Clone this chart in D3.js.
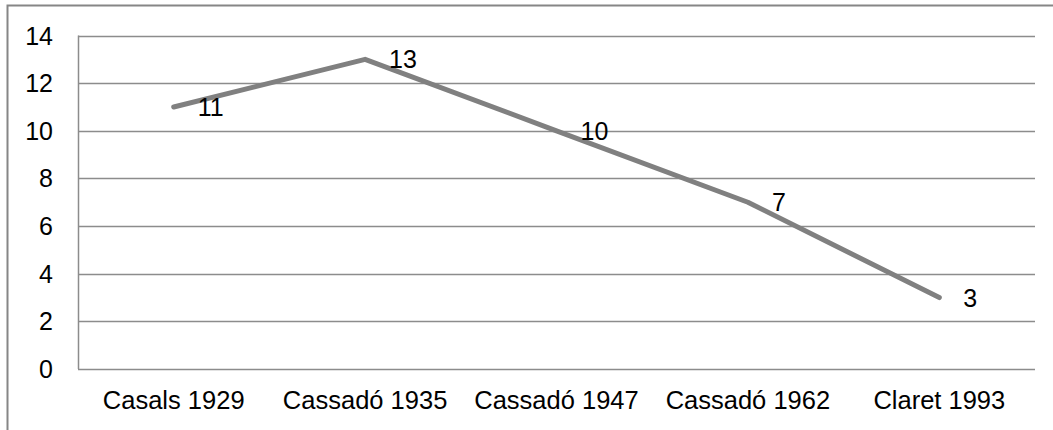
<!DOCTYPE html>
<html>
<head>
<meta charset="utf-8">
<script src="https://cdn.jsdelivr.net/npm/d3@7"></script>
<style>
  body { margin: 0; background: #fff; }
  text { font-family: "Liberation Sans", Arial, sans-serif; fill: #000; }
</style>
</head>
<body>
<div id="chart"></div>
<script>
var categories = ["Casals 1929", "Cassadó 1935", "Cassadó 1947", "Cassadó 1962", "Claret 1993"];
var values = [11, 13, 10, 7, 3];
var yTicks = [0, 2, 4, 6, 8, 10, 12, 14];

var width = 1053;
var height = 430;
var margin = {top: 35.5, right: 18, bottom: 61, left: 78};

var svg = d3.select("#chart")
            .append("svg")
            .attr("width", width)
            .attr("height", height);

// outer frame (top and left edges visible only)
svg.append("path")
   .attr("d", "M7.5," + height + "V5.5H" + width)
   .attr("fill", "none")
   .attr("stroke", "#868686")
   .attr("stroke-width", 2);

var x = d3.scaleBand()
          .domain(categories)
          .range([margin.left, width - margin.right]);

var y = d3.scaleLinear()
          .domain([0, 14])
          .range([height - margin.bottom, margin.top]);

// gridlines
svg.append("g")
   .selectAll("line")
   .data(yTicks)
   .enter()
   .append("line")
   .attr("x1", margin.left)
   .attr("x2", width - margin.right)
   .attr("y1", function(d){ return Math.round(y(d)) + 0.5; })
   .attr("y2", function(d){ return Math.round(y(d)) + 0.5; })
   .attr("stroke", "#8c8c8c")
   .attr("stroke-width", 1.5);

// vertical axis line
svg.append("line")
   .attr("x1", margin.left + 0.5)
   .attr("x2", margin.left + 0.5)
   .attr("y1", y(14))
   .attr("y2", y(0))
   .attr("stroke", "#8c8c8c")
   .attr("stroke-width", 1.5);

// y tick labels
svg.append("g")
   .selectAll("text")
   .data(yTicks)
   .enter()
   .append("text")
   .attr("x", 53)
   .attr("y", function(d){ return y(d); })
   .attr("dy", "0.36em")
   .attr("text-anchor", "end")
   .style("font-size", "25px")
   .text(function(d){ return d; });

// category labels
svg.append("g")
   .selectAll("text")
   .data(categories)
   .enter()
   .append("text")
   .attr("x", function(d){ return x(d) + x.bandwidth()/2; })
   .attr("y", 409)
   .attr("text-anchor", "middle")
   .style("font-size", "25.5px")
   .text(function(d){ return d; });

var pts = categories.map(function(c, i){ return {cat: c, val: values[i]}; });

var line = d3.line()
             .x(function(d){ return x(d.cat) + x.bandwidth()/2; })
             .y(function(d){ return y(d.val); });

svg.append("path")
   .datum(pts)
   .attr("d", line)
   .attr("fill", "none")
   .attr("stroke", "#808080")
   .attr("stroke-width", 5)
   .attr("stroke-linecap", "round")
   .attr("stroke-linejoin", "round");

// data labels
svg.append("g")
   .selectAll("text")
   .data(pts)
   .enter()
   .append("text")
   .attr("x", function(d){ return x(d.cat) + x.bandwidth()/2 + 24; })
   .attr("y", function(d){ return y(d.val); })
   .attr("dy", "0.36em")
   .style("font-size", "25px")
   .text(function(d){ return d.val; });
</script>
</body>
</html>
